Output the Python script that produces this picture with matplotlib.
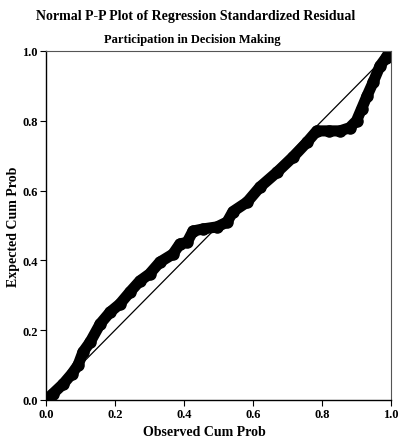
import matplotlib
matplotlib.use("Agg")
import matplotlib.pyplot as plt

# points (observed cum prob, expected cum prob)
observed = [0.0, 0.02, 0.05, 0.075, 0.093, 0.107, 0.128, 0.157, 0.186, 0.214,
            0.243, 0.272, 0.30, 0.33, 0.368, 0.388, 0.409, 0.426, 0.455, 0.496,
            0.525, 0.542, 0.583, 0.62, 0.67, 0.716, 0.757, 0.785, 0.82, 0.852,
            0.88, 0.90, 0.915, 0.93, 0.948, 0.968, 0.985, 0.997]
expected = [0.0, 0.018, 0.046, 0.075, 0.10, 0.137, 0.166, 0.218, 0.252, 0.275,
            0.309, 0.341, 0.361, 0.395, 0.418, 0.447, 0.452, 0.484, 0.49, 0.496,
            0.51, 0.54, 0.567, 0.61, 0.653, 0.696, 0.739, 0.771, 0.771, 0.771,
            0.78, 0.80, 0.835, 0.87, 0.91, 0.957, 0.98, 1.0]
ticks = [0.0, 0.2, 0.4, 0.6, 0.8, 1.0]
tick_labels = ["0.0", "0.2", "0.4", "0.6", "0.8", "1.0"]

plt.rcParams["font.family"] = "Liberation Serif"

fig = plt.figure(figsize=(4.0, 4.39), dpi=100)
ax = fig.add_axes([0.115, 0.0866, 0.8625, 0.795])

ax.plot([0, 1], [0, 1], color="black", linewidth=0.9)
ax.plot(observed, expected, color="black", linewidth=8, solid_capstyle="round",
        solid_joinstyle="round", marker="o", markersize=8, markerfacecolor="black")

ax.set_xlim(0, 1)
ax.set_ylim(0, 1)
ax.set_xticks(ticks)
ax.set_yticks(ticks)
ax.set_xticklabels(tick_labels, fontsize=9, fontweight="bold")
ax.set_yticklabels(tick_labels, fontsize=9, fontweight="bold")
ax.tick_params(direction="out", length=4, width=0.8, pad=2)

for side in ["left", "bottom"]:
    ax.spines[side].set_linewidth(1.0)
for side in ["top", "right"]:
    ax.spines[side].set_linewidth(0.8)
    ax.spines[side].set_color("#555555")
ax.spines["right"].set_linestyle((0, (1, 1)))

ax.set_xlabel("Observed Cum Prob", fontsize=10, fontweight="bold", va="center")
ax.set_ylabel("Expected Cum Prob", fontsize=10, fontweight="bold", va="center")
ax.xaxis.set_label_coords(0.46, -0.089)
ax.yaxis.set_label_coords(-0.093, 0.5)

fig.text(0.49, 0.962, "Normal P-P Plot of Regression Standardized Residual",
         ha="center", va="center", fontsize=10, fontweight="bold")
fig.text(0.48, 0.909, "Participation in Decision Making",
         ha="center", va="center", fontsize=9, fontweight="bold")

fig.savefig("out.png", dpi=100)
plt.close(fig)
